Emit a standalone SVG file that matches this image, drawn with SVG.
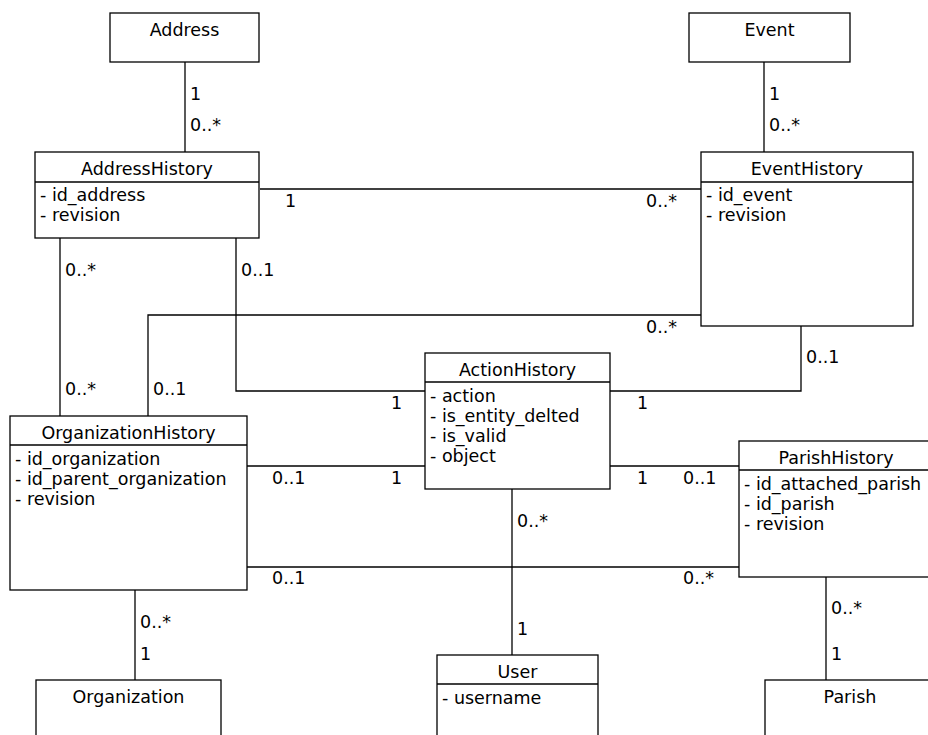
<svg xmlns="http://www.w3.org/2000/svg" width="928" height="735" viewBox="0 0 928 735">
  <style>
    .box { fill: #ffffff; stroke: #000000; stroke-width: 1.3; }
    .sep { stroke: #000000; stroke-width: 1.3; }
    .edge { fill: none; stroke: #000000; stroke-width: 1.3; }
    text { font-family: "DejaVu Sans", "Liberation Sans", sans-serif; font-size: 17.5px; fill: #000000; }
    .title { text-anchor: middle; }
  </style>
  <rect width="928" height="735" fill="#ffffff"/>

  <!-- associations -->
  <g id="connectors">
    <polyline class="edge" points="185,62 185,152"/>
    <polyline class="edge" points="764,62 764,152"/>
    <polyline class="edge" points="260,189 701,189"/>
    <polyline class="edge" points="60,238 60,416"/>
    <polyline class="edge" points="236,238 236,391 425,391"/>
    <polyline class="edge" points="701,315 148,315 148,416"/>
    <polyline class="edge" points="801,326 801,391 610,391"/>
    <polyline class="edge" points="247,466 425,466"/>
    <polyline class="edge" points="610,466 739,466"/>
    <polyline class="edge" points="247,567 739,567"/>
    <polyline class="edge" points="512,489 512,655"/>
    <polyline class="edge" points="135,590 135,680"/>
    <polyline class="edge" points="826,577 826,680"/>

    <!-- multiplicities -->
    <text x="190" y="100">1</text>
    <text x="190" y="131">0..*</text>
    <text x="769" y="100">1</text>
    <text x="769" y="131">0..*</text>
    <text x="285" y="207">1</text>
    <text x="646" y="207">0..*</text>
    <text x="65" y="276">0..*</text>
    <text x="65" y="395">0..*</text>
    <text x="241" y="276">0..1</text>
    <text x="391" y="409">1</text>
    <text x="646" y="333">0..*</text>
    <text x="153" y="395">0..1</text>
    <text x="806" y="363">0..1</text>
    <text x="637" y="409">1</text>
    <text x="272" y="484">0..1</text>
    <text x="391" y="484">1</text>
    <text x="637" y="484">1</text>
    <text x="683" y="484">0..1</text>
    <text x="272" y="584">0..1</text>
    <text x="683" y="584">0..*</text>
    <text x="517" y="527">0..*</text>
    <text x="517" y="635">1</text>
    <text x="140" y="628">0..*</text>
    <text x="140" y="660">1</text>
    <text x="831" y="614">0..*</text>
    <text x="831" y="660">1</text>
  </g>

  <g id="Address">
    <rect class="box" x="110" y="13" width="149" height="49"/>
    <text class="title" x="184.5" y="36">Address</text>
  </g>

  <g id="Event">
    <rect class="box" x="689" y="13" width="161" height="49"/>
    <text class="title" x="769.5" y="36">Event</text>
  </g>

  <g id="AddressHistory">
    <rect class="box" x="35" y="152" width="224" height="86"/>
    <line class="sep" x1="35" y1="182" x2="259" y2="182"/>
    <text class="title" x="147" y="175">AddressHistory</text>
    <text x="40" y="201">- id_address</text>
    <text x="40" y="221">- revision</text>
  </g>

  <g id="EventHistory">
    <rect class="box" x="701" y="152" width="212" height="174"/>
    <line class="sep" x1="701" y1="182" x2="913" y2="182"/>
    <text class="title" x="807" y="175">EventHistory</text>
    <text x="706" y="201">- id_event</text>
    <text x="706" y="221">- revision</text>
  </g>

  <g id="ActionHistory">
    <rect class="box" x="425" y="353" width="185" height="136"/>
    <line class="sep" x1="425" y1="382" x2="610" y2="382"/>
    <text class="title" x="517.5" y="376">ActionHistory</text>
    <text x="430" y="402">- action</text>
    <text x="430" y="422">- is_entity_delted</text>
    <text x="430" y="442">- is_valid</text>
    <text x="430" y="462">- object</text>
  </g>

  <g id="OrganizationHistory">
    <rect class="box" x="10" y="416" width="237" height="174"/>
    <line class="sep" x1="10" y1="445" x2="247" y2="445"/>
    <text class="title" x="128.5" y="439">OrganizationHistory</text>
    <text x="15" y="465">- id_organization</text>
    <text x="15" y="485">- id_parent_organization</text>
    <text x="15" y="505">- revision</text>
  </g>

  <g id="ParishHistory">
    <rect class="box" x="739" y="441" width="195" height="136"/>
    <line class="sep" x1="739" y1="470" x2="934" y2="470"/>
    <text class="title" x="836" y="464">ParishHistory</text>
    <text x="744" y="490">- id_attached_parish</text>
    <text x="744" y="510">- id_parish</text>
    <text x="744" y="530">- revision</text>
  </g>

  <g id="Organization">
    <rect class="box" x="36" y="680" width="185" height="70"/>
    <text class="title" x="128.5" y="703">Organization</text>
  </g>

  <g id="User">
    <rect class="box" x="437" y="655" width="161" height="95"/>
    <line class="sep" x1="437" y1="684" x2="598" y2="684"/>
    <text class="title" x="517.5" y="678">User</text>
    <text x="442" y="704">- username</text>
  </g>

  <g id="Parish">
    <rect class="box" x="765" y="680" width="175" height="70"/>
    <text class="title" x="850" y="703">Parish</text>
  </g>
</svg>
